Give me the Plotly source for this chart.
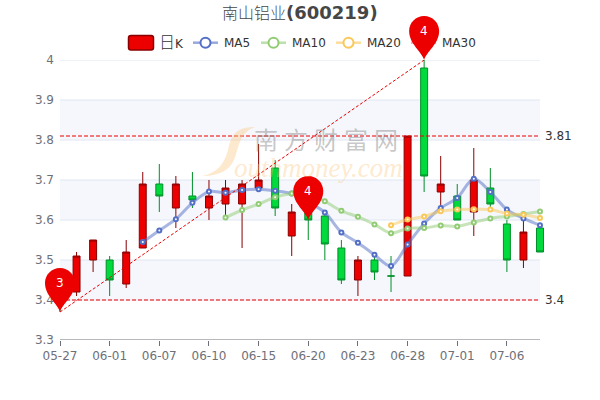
import plotly.graph_objects as go

dates = ["05-27","05-28","05-31","06-01","06-02","06-03","06-07","06-08","06-09","06-10",
         "06-11","06-14","06-15","06-16","06-17","06-20","06-21","06-22","06-23","06-24",
         "06-27","06-28","06-29","06-30","07-01","07-04","07-05","07-06","07-07","07-08"]
tick_labels = ["05-27","06-01","06-07","06-10","06-15","06-20","06-23","06-28","07-01","07-06"]
opens  = [3.44,3.42,3.50,3.50,3.44,3.53,3.69,3.63,3.66,3.63,3.64,3.64,3.68,3.73,3.56,3.62,3.61,3.53,3.45,3.50,3.46,3.46,3.98,3.67,3.66,3.62,3.68,3.59,3.50,3.58]
closes = [3.42,3.51,3.55,3.45,3.52,3.69,3.66,3.69,3.65,3.66,3.68,3.69,3.70,3.63,3.62,3.60,3.54,3.45,3.50,3.47,3.46,3.81,3.71,3.69,3.60,3.70,3.64,3.50,3.57,3.52]
highs  = [3.46,3.52,3.55,3.51,3.55,3.72,3.74,3.71,3.72,3.70,3.70,3.70,3.79,3.75,3.64,3.66,3.62,3.55,3.51,3.51,3.51,3.81,4.00,3.76,3.69,3.78,3.73,3.60,3.60,3.59]
lows   = [3.37,3.41,3.47,3.41,3.43,3.53,3.62,3.58,3.63,3.60,3.61,3.53,3.68,3.61,3.51,3.55,3.50,3.44,3.41,3.45,3.42,3.46,3.67,3.63,3.60,3.56,3.62,3.47,3.48,3.52]
ma5  = [None]*5 + [3.545,3.574,3.602,3.643,3.671,3.668,3.675,3.677,3.673,3.666,3.645,3.619,3.569,3.543,3.513,3.485,3.539,3.591,3.630,3.655,3.703,3.670,3.626,3.604,3.587]
ma10 = [None]*10 + [3.606,3.625,3.640,3.657,3.666,3.668,3.647,3.623,3.608,3.589,3.567,3.579,3.580,3.586,3.584,3.594,3.604,3.609,3.615,3.621]
ma20 = [None]*20 + [3.587,3.601,3.609,3.622,3.626,3.627,3.626,3.616,3.613,3.605]
y_ticks = [3.3,3.4,3.5,3.6,3.7,3.8,3.9,4.0]
y_tick_labels = ["3.3","3.4","3.5","3.6","3.7","3.8","3.9","4"]
mark_levels = [3.81,3.4]
mark_labels = ["3.81","3.4"]
trend_start = (0,3.37)
trend_end = (22,4.0)
pins = [(0,3.37,"3"),(15,3.60,"4"),(22,4.0,"4")]

UP,UPB,DN,DNB = "#ec0000","#8a0000","#00da3c","#008f28"
L,R,T,B = 55,545,60,340
X0 = -(60-L)/(480/29)
X1 = 29+(R-540)/(480/29)
def px(x): return (x-L)/(R-L)
def py(y): return (B-y)/(B-T)
def dx(i): return (i-X0)/(X1-X0)
def dy(v): return (v-3.3)/0.7

fig = go.Figure()
fig.add_trace(go.Candlestick(x=dates,open=opens,high=highs,low=lows,close=closes,
    name="日K",showlegend=False,hoverinfo="skip",whiskerwidth=0,
    increasing=dict(fillcolor=UP,line=dict(color=UPB,width=1)),
    decreasing=dict(fillcolor=DN,line=dict(color=DNB,width=1))))
for name,vals,col in [("MA5",ma5,"#5470c6"),("MA10",ma10,"#91cc75"),("MA20",ma20,"#fac858")]:
    fig.add_trace(go.Scatter(x=dates,y=vals,name=name,mode="lines",showlegend=False,hoverinfo="skip",
        line=dict(color=col,width=3,shape="spline",smoothing=0.9),opacity=0.5))
    fig.add_trace(go.Scatter(x=dates,y=vals,name=name,mode="markers",showlegend=False,hoverinfo="skip",
        marker=dict(size=4,color="#fff",line=dict(color=col,width=2))))
fig.add_trace(go.Scatter(x=[dates[trend_start[0]],dates[trend_end[0]]],y=[trend_start[1],trend_end[1]],
    mode="lines",line=dict(color=UP,width=1,dash="3px,2px"),showlegend=False,hoverinfo="skip"))
for lv in mark_levels:
    fig.add_trace(go.Scatter(x=[dates[0],dates[-1]],y=[lv,lv],mode="lines",
        line=dict(color=UP,width=1,dash="4px,2px"),showlegend=False,hoverinfo="skip"))

shapes=[]; ann=[]
for i in range(len(y_ticks)-1):
    if i%2==1:
        shapes.append(dict(type="rect",xref="x",yref="y",x0=0,x1=29,y0=y_ticks[i],y1=y_ticks[i+1],
            fillcolor="#f5f7fc",line_width=0,layer="below"))
for t in y_ticks[1:]:
    shapes.append(dict(type="line",xref="x",yref="y",x0=0,x1=29,y0=t,y1=t,line=dict(color="#e0e6f1",width=1),layer="below"))
shapes.append(dict(type="line",xref="x",yref="y",x0=0,x1=29,y0=3.3,y1=3.3,line=dict(color="#6e7079",width=1),layer="above"))

for lv,t in zip(mark_levels,mark_labels):
    ann.append(dict(x=29,y=lv,xref="x",yref="y",text=t,showarrow=False,xanchor="left",xshift=3,
        font=dict(size=12,color="#333",family="DejaVu Sans")))

# title
ann.append(dict(x=px(300),y=py(13),xref="paper",yref="paper",showarrow=False,xanchor="center",yanchor="middle",
    text='<span style="font-size:16px">南山铝业</span><b>(600219)</b>',
    font=dict(size=18,color="#464646",family="DejaVu Sans, Noto Sans CJK SC",weight=300)))
# legend
LY=42.7
shapes.append(dict(type="path",xref="paper",yref="paper",
    path=f"M{px(131)},{py(35.5)} L{px(151)},{py(35.5)} Q{px(153.5)},{py(35.5)} {px(153.5)},{py(38)} L{px(153.5)},{py(47.5)} Q{px(153.5)},{py(50)} {px(151)},{py(50)} L{px(131)},{py(50)} Q{px(128.5)},{py(50)} {px(128.5)},{py(47.5)} L{px(128.5)},{py(38)} Q{px(128.5)},{py(35.5)} {px(131)},{py(35.5)} Z",
    fillcolor=UP,line=dict(color=UPB,width=1.5)))
ann.append(dict(x=px(157),y=py(LY),xref="paper",yref="paper",showarrow=False,xanchor="left",yanchor="middle",
    text='<span style="font-size:16px;font-weight:300">日</span>K',font=dict(size=12,color="#333",family="DejaVu Sans, Noto Sans CJK SC")))
for x,name,col in [(193,"MA5","#5470c6"),(261,"MA10","#91cc75"),(336,"MA20","#fac858"),(411,"MA30","#ec7e7e")]:
    shapes.append(dict(type="line",xref="paper",yref="paper",x0=px(x),x1=px(x+25),y0=py(LY),y1=py(LY),
        line=dict(color=col,width=2.5),opacity=0.6))
    shapes.append(dict(type="circle",xref="paper",yref="paper",x0=px(x+7.5),x1=px(x+17.5),y0=py(LY+5),y1=py(LY-5),
        fillcolor="#fff",line=dict(color=col,width=2)))
    ann.append(dict(x=px(x+29),y=py(LY),xref="paper",yref="paper",showarrow=False,xanchor="left",yanchor="middle",
        text=name,font=dict(size=12,color="#333",family="DejaVu Sans")))
# watermark
shapes.append(dict(type="path",xref="paper",yref="paper",
    path=f"M{px(202)},{py(176)} C{px(222)},{py(172)} {px(226)},{py(158)} {px(229)},{py(146)} C{px(232)},{py(132)} {px(240)},{py(127)} {px(255)},{py(127)} C{px(243)},{py(131)} {px(240)},{py(140)} {px(236)},{py(154)} C{px(232)},{py(170)} {px(220)},{py(176)} {px(202)},{py(176)} Z",
    fillcolor="rgba(250,200,130,0.4)",line_width=0,layer="above"))
ann.append(dict(x=px(326),y=py(138.5),xref="paper",yref="paper",showarrow=False,xanchor="center",yanchor="middle",
    text="南\u2005方\u2005财\u2005富\u2005网",font=dict(size=24,color="rgba(120,120,120,0.42)",family="Noto Sans CJK SC")))
ann.append(dict(x=px(318),y=py(168),xref="paper",yref="paper",showarrow=False,xanchor="center",yanchor="middle",
    text="<i>outhmoney.com</i>",font=dict(size=27,color="rgba(250,200,130,0.4)",family="Liberation Serif")))
# pins
PIN="M0,0 C-2,8 -15,16 -15,29 C-15,37.3 -8.3,44 0,44 C8.3,44 15,37.3 15,29 C15,16 2,8 0,0 Z"
for i,v,t in pins:
    shapes.append(dict(type="path",xref="paper",yref="paper",xsizemode="pixel",ysizemode="pixel",xanchor=dx(i),yanchor=dy(v),
        path=PIN,fillcolor=UP,line_width=0,layer="above"))
    ann.append(dict(x=dx(i),y=dy(v),xref="paper",yref="paper",text=t,showarrow=False,yshift=29,
        font=dict(size=12,color="#fff",family="DejaVu Sans"),xanchor="center",yanchor="middle"))

fig.update_layout(width=600,height=400,margin=dict(l=L,r=600-R,t=T,b=400-B,autoexpand=False),
    paper_bgcolor="#fff",plot_bgcolor="#fff",showlegend=False,boxgap=0.4,
    shapes=shapes,annotations=ann,
    xaxis=dict(type="category",categoryorder="array",categoryarray=dates,range=[X0,X1],rangeslider=dict(visible=False),
        tickmode="array",tickvals=tick_labels,ticktext=tick_labels,showgrid=False,zeroline=False,showline=False,
        ticks="outside",ticklen=5,tickcolor="#6e7079",tickfont=dict(size=12,color="#6e7079",family="DejaVu Sans")),
    yaxis=dict(range=[3.3,4.0],tickmode="array",tickvals=y_ticks,ticktext=y_tick_labels,
        showgrid=False,zeroline=False,showline=False,ticks="",tickfont=dict(size=12,color="#6e7079",family="DejaVu Sans")))
fig.write_html("out.html",post_script="document.body.style.margin='0';",config={"displayModeBar":False})
